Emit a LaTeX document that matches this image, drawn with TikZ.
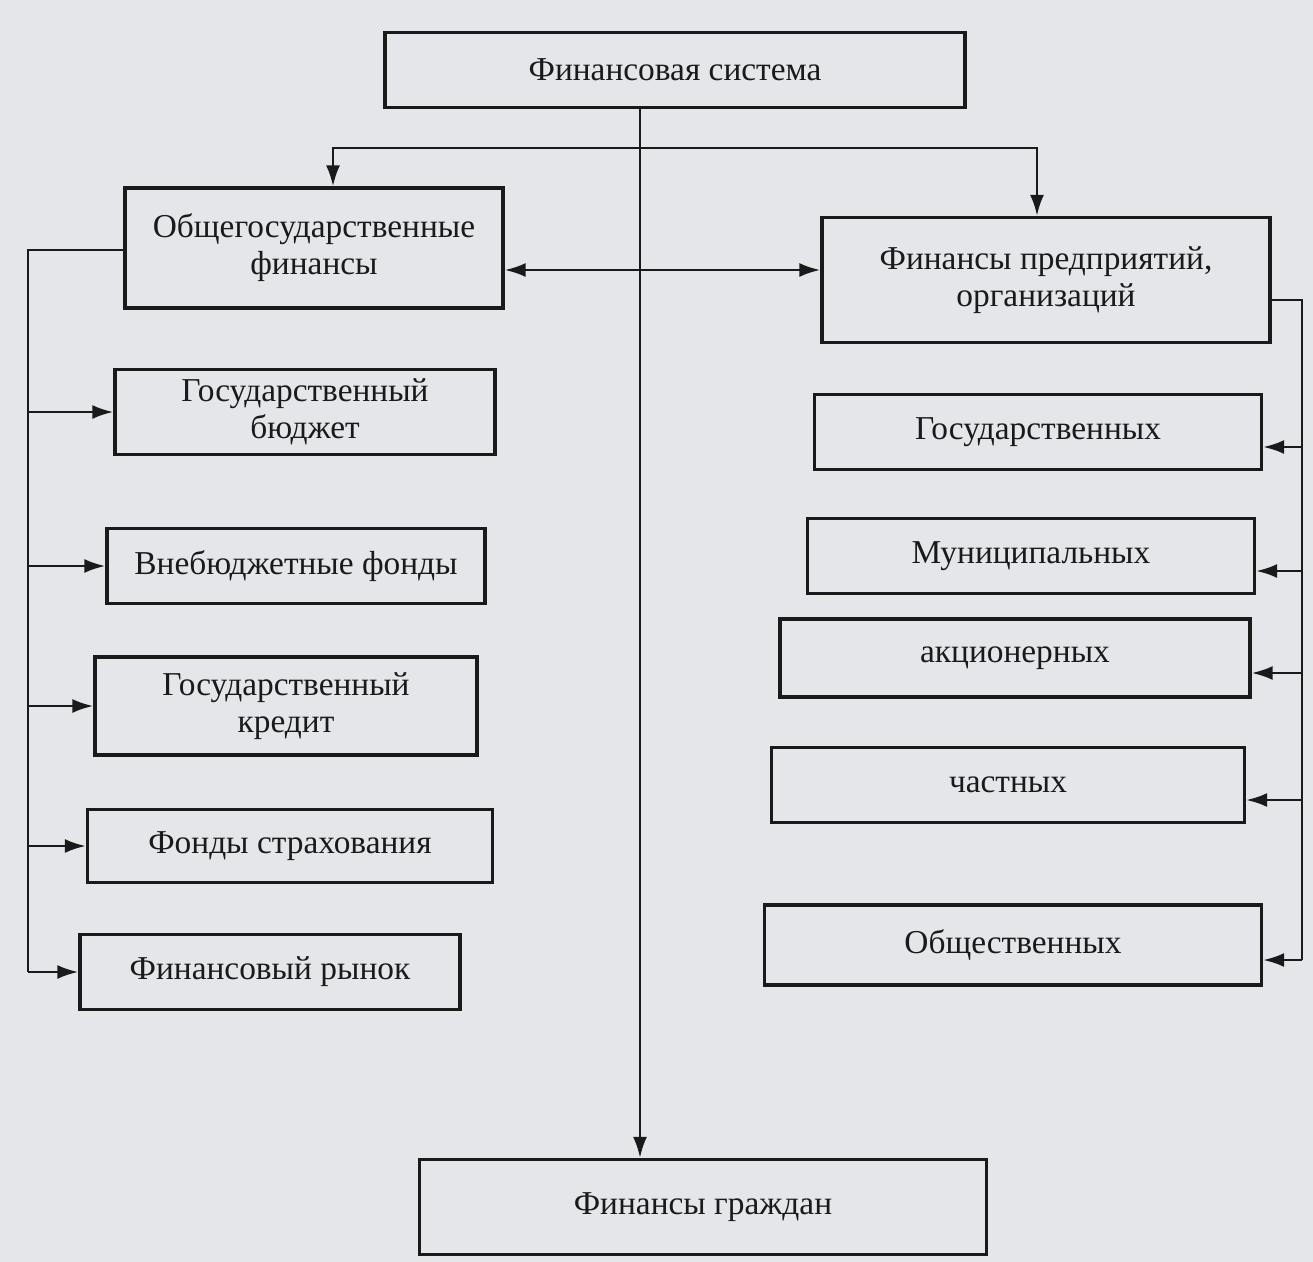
\documentclass[tikz,border=0pt]{standalone}
\usepackage{fontspec}
\setmainfont{Liberation Serif}
\usetikzlibrary{arrows.meta,calc}
\definecolor{paper}{HTML}{E4E6EA}
\definecolor{ink}{HTML}{1A1A1A}
\begin{document}
\begin{tikzpicture}[x=0.02cm,y=-0.02cm,
  box/.style={draw=ink, line width=1.8pt, fill=paper, text=ink, align=center, inner sep=0pt, font=\fontsize{19}{21}\selectfont},
  sz/.style 2 args={minimum width=#1*0.02cm, minimum height=#2*0.02cm},
  conn/.style={draw=ink, line width=1.6pt},
  arr/.style={conn, -{Latex[length=12pt,width=8pt]}},
  darr/.style={conn, {Latex[length=12pt,width=8pt]}-{Latex[length=12pt,width=8pt]}},
]
\fill[paper] (0,0) rectangle (1313,1262);
\useasboundingbox (0,0) rectangle (1313,1262);

\node[box, sz={580}{75}] (top) at (675,70) {Финансовая система};
\node[box, sz={378}{120}] (gen) at (314,248) {Общегосударственные\\финансы};
\node[box, sz={448}{125}] (ent) at (1046,280) {Финансы предприятий,\\организаций};

\node[box, sz={380}{85}] (l1) at (305,412) {Государственный\\бюджет};
\node[box, sz={378}{75}] (l2) at (296,566) {Внебюджетные фонды};
\node[box, sz={382}{98}] (l3) at (286,706) {Государственный\\кредит};
\node[box, sz={405}{73}] (l4) at (290,846) {Фонды страхования};
\node[box, sz={380}{75}] (l5) at (270,972) {Финансовый рынок};

\node[box, sz={447}{75}] (r1) at (1038,432) {Государственных};
\node[box, sz={447}{75}] (r2) at (1031,556) {Муниципальных};
\node[box, sz={470}{78}] (r3) at (1015,658) {акционерных};
\node[box, sz={473}{75}] (r4) at (1008,785) {частных};
\node[box, sz={497}{80}] (r5) at (1013,945) {Общественных};

\node[box, sz={567}{95}] (cit) at (703,1207) {Финансы граждан};

% central line
\coordinate (bus) at (640,148);
\draw[arr] (top.south -| bus) -- (cit.north -| bus);

% top branch
\coordinate (hl) at (333,148);
\coordinate (hr) at (1037,148);
\draw[darr] (hl |- gen.north) -- (hl) -- (hr) -- (hr |- ent.north);

% link between the two main blocks
\coordinate (mid) at (660,270);
\draw[darr] (gen.east |- mid) -- (ent.west |- mid);

% left bus
\coordinate (lb) at (28,250);
\draw[conn] (gen.west |- lb) -- (lb) -- (lb |- l5.west);
\foreach \n in {l1,l2,l3,l4,l5}
  \draw[arr] (lb |- \n.west) -- (\n.west);

% right bus
\coordinate (rb) at (1302,300);
\draw[conn] (ent.east |- rb) -- (rb) -- ($(rb |- r5.east)+(0,15)$);
\foreach \n in {r1,r2,r3,r4,r5}
  \draw[arr] ($(rb |- \n.east)+(0,15)$) -- ($(\n.east)+(0,15)$);
\end{tikzpicture}
\end{document}
